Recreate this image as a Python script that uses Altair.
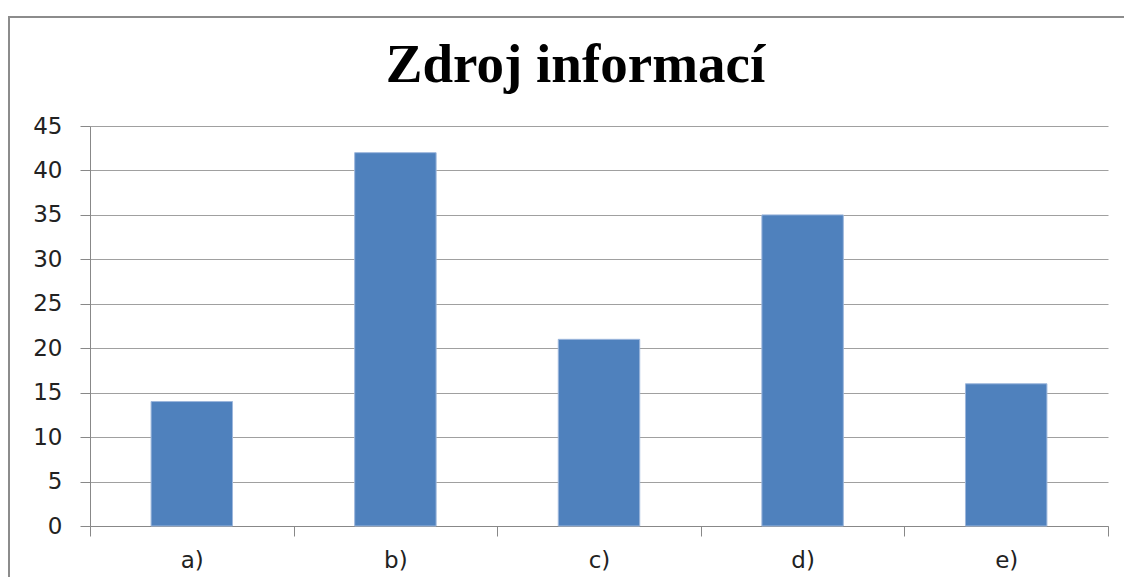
import altair as alt
import pandas as pd

categories = ["a)", "b)", "c)", "d)", "e)"]
values = [14, 42, 21, 35, 16]
y_ticks = [0, 5, 10, 15, 20, 25, 30, 35, 40, 45]
title_text = "Zdroj informací"

df = pd.DataFrame({"kategorie": categories, "pocet": values})

bars = alt.Chart(df).mark_bar(
    color="#4F81BD",
    stroke="#9db7dc",
    strokeWidth=1,
    width=alt.RelativeBandSize(0.4),
).encode(
    x=alt.X(
        "kategorie:N",
        sort=categories,
        scale=alt.Scale(paddingInner=0, paddingOuter=0),
        axis=alt.Axis(
            title=None,
            labelAngle=0,
            tickBand="extent",
            tickSize=10,
            tickColor="#888888",
            domainColor="#888888",
            labelFont="DejaVu Sans",
            labelFontSize=23,
            labelColor="#222222",
            labelPadding=13,
            grid=False,
        ),
    ),
    y=alt.Y(
        "pocet:Q",
        scale=alt.Scale(domain=[0, 45], nice=False),
        axis=alt.Axis(
            title=None,
            values=y_ticks,
            tickSize=10,
            tickColor="#888888",
            domainColor="#888888",
            gridColor="#a0a0a0",
            gridWidth=1,
            labelFont="DejaVu Sans",
            labelFontSize=23,
            labelColor="#222222",
            labelPadding=18,
        ),
    ),
)

frame = alt.Chart(pd.DataFrame({"f": [0]})).mark_rect(
    fillOpacity=0, stroke="#8c8c8c", strokeWidth=2
).encode(
    x=alt.value(-81), x2=alt.value(1070), y=alt.value(-109), y2=alt.value(480)
)

title = alt.Chart(pd.DataFrame({"t": [title_text]})).mark_text(
    font="Liberation Serif",
    fontWeight="bold",
    fontSize=55,
    color="#000000",
    align="center",
    baseline="alphabetic",
).encode(
    text="t:N", x=alt.value(485.5), y=alt.value(-44)
)

chart = alt.layer(frame, bars, title).properties(
    width=1018,
    height=400,
    autosize=alt.AutoSizeParams(type="none"),
    padding={"left": 82, "top": 118, "right": 16, "bottom": 51},
).configure_view(stroke=None)

chart.save("out.html", embed_options={"renderer": "svg", "actions": False})
